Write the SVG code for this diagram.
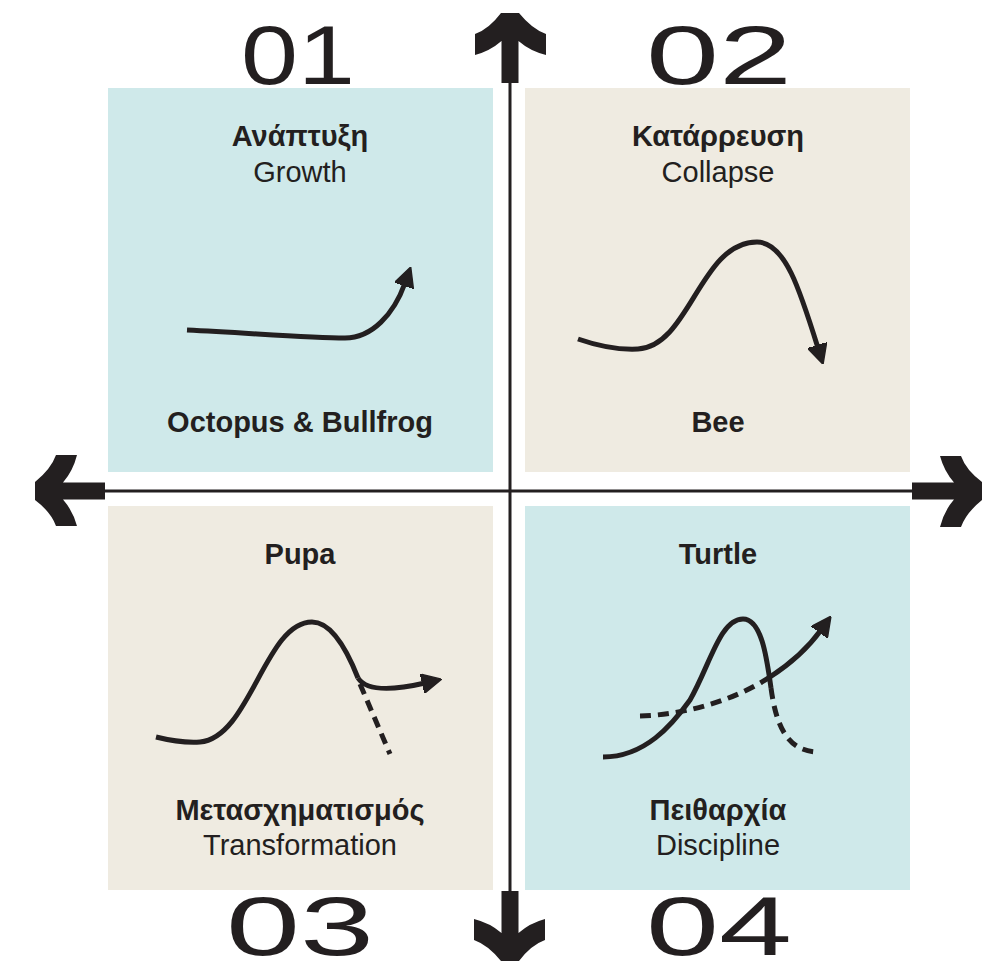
<svg xmlns="http://www.w3.org/2000/svg" width="998" height="962" viewBox="0 0 998 962">
<style>
  .bg-cyan { fill: #cfe9ea; }
  .bg-beige { fill: #efebe1; }
  .t { font-family: "Liberation Sans", Arial, sans-serif; font-size: 29px; fill: #231f20; text-anchor: middle; }
  .b { font-weight: bold; }
  .num { font-family: "Liberation Sans", Arial, sans-serif; font-size: 84px; fill: #231f20; }
  .curve { fill: none; stroke: #231f20; stroke-width: 5; stroke-linecap: butt; stroke-linejoin: round; }
  .dash { stroke-dasharray: 11 7; }
  .axis { stroke: #231f20; stroke-width: 3; fill: none; }
  .axhead { fill: #231f20; }
</style>
<defs>
  <marker id="ah" viewBox="0 0 20 20" refX="3" refY="10" markerWidth="20" markerHeight="20" markerUnits="userSpaceOnUse" orient="auto">
    <path d="M0,0 L20,10 L0,20 Z" fill="#231f20" stroke="#231f20" stroke-width="1.5" stroke-linejoin="round"/>
  </marker>
  <path id="axarrow" d="M-9,0 L9,0 Q22,16 36,21 L36,42 Q20,38 8.5,28 L8.5,70 L-8.5,70 L-8.5,28 Q-20,38 -35,42 L-35,21 Q-21,16 -9,0 Z"/>
</defs>

<g id="connectors">
  <line class="axis" x1="510" y1="80" x2="510" y2="894"/>
  <line class="axis" x1="102" y1="491" x2="915" y2="491"/>
  <use href="#axarrow" class="axhead" transform="translate(510,13)"/>
  <use href="#axarrow" class="axhead" transform="translate(510,961) rotate(180)"/>
  <use href="#axarrow" class="axhead" transform="translate(35,491) rotate(-90)"/>
  <use href="#axarrow" class="axhead" transform="translate(982,491) rotate(90)"/>
</g>

<g id="q1-growth">
  <rect class="bg-cyan" x="108" y="88" width="385" height="384"/>
  <text class="num" x="241" y="84" textLength="114" lengthAdjust="spacingAndGlyphs">01</text>
  <text class="t b" x="300" y="146">Ανάπτυξη</text>
  <text class="t" x="300" y="182">Growth</text>
  <path class="curve" marker-end="url(#ah)" d="M187,330 C250,333 310,338 345,338 C372,338 394,314 405,283"/>
  <text class="t b" x="300" y="432">Octopus &amp; Bullfrog</text>
</g>

<g id="q2-collapse">
  <rect class="bg-beige" x="525" y="88" width="385" height="384"/>
  <text class="num" x="646" y="84" textLength="146" lengthAdjust="spacingAndGlyphs">02</text>
  <text class="t b" x="718" y="146">Κατάρρευση</text>
  <text class="t" x="718" y="182">Collapse</text>
  <path class="curve" marker-end="url(#ah)" d="M578,339 C598,346 618,350 638,349 C690,346 700,242 757,242 C785,242 800,290 818,348"/>
  <text class="t b" x="718" y="432">Bee</text>
</g>

<g id="q3-transformation">
  <rect class="bg-beige" x="108" y="506" width="385" height="384"/>
  <text class="t b" x="300" y="564">Pupa</text>
  <path class="curve" d="M156,737 C172,741 185,743 200,742 C250,738 265,622 312,622 C330,622 345,645 358,678"/>
  <path class="curve" marker-end="url(#ah)" d="M358,678 C367,692 395,690 425,683"/>
  <path class="curve dash" d="M360,684 L390,754"/>
  <text class="t b" x="300" y="820">Μετασχηματισμός</text>
  <text class="t" x="300" y="855">Transformation</text>
  <text class="num" x="226" y="955" textLength="148" lengthAdjust="spacingAndGlyphs">03</text>
</g>

<g id="q4-discipline">
  <rect class="bg-cyan" x="525" y="506" width="385" height="384"/>
  <text class="t b" x="718" y="564">Turtle</text>
  <path class="curve" d="M603,757 C645,757 672,725 690,700 C710,665 720,619 743,619 C762,619 767,660 771,688"/>
  <path class="curve dash" d="M771,688 C776,725 787,752 819,752"/>
  <path class="curve dash" d="M640,716 C680,715 730,703 770,677"/>
  <path class="curve" marker-end="url(#ah)" d="M770,677 C790,664 808,648 821,630"/>
  <text class="t b" x="718" y="820">Πειθαρχία</text>
  <text class="t" x="718" y="855">Discipline</text>
  <text class="num" x="646" y="955" textLength="146" lengthAdjust="spacingAndGlyphs">04</text>
</g>
</svg>
